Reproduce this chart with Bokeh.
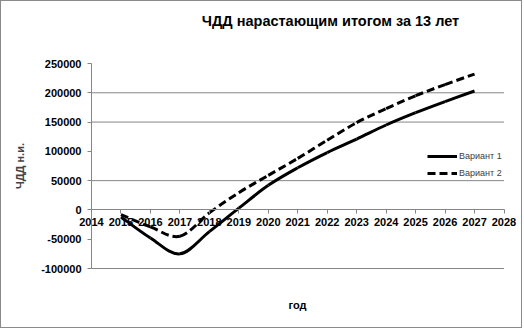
from bokeh.plotting import figure
from bokeh.models import (FixedTicker, NumeralTickFormatter, Legend, LegendItem, Label, Range1d)
from bokeh.embed import file_html
from bokeh.resources import INLINE

years = [2015, 2016, 2017, 2018, 2019, 2020, 2021, 2022, 2023, 2024, 2025, 2026, 2027]
variant1 = [-12000, -48000, -75000, -37000, 3000, 42000, 72000, 98000, 121000, 145000, 166000, 185000, 203000]
variant2 = [-8000, -29000, -45000, -5000, 29500, 59000, 88000, 119000, 149000, 173000, 195000, 214000, 232000]
x_ticks = list(range(2014, 2029))
y_ticks = [-100000, -50000, 0, 50000, 100000, 150000, 200000, 250000]
grid_values = [-100000, 50000, 150000, 200000]

title_text = "ЧДД нарастающим итогом за 13 лет"
y_label = "ЧДД н.и."
x_label = "год"
labels = ["Вариант 1", "Вариант 2"]

FONT = "Liberation Sans"
GRAY = "#868686"

# axis extents (data) and the frame geometry in pixels
X0, X1 = 2014, 2028
Y0, Y1 = -100000, 250000
W, H = 522, 328
FL, FR, FT, FB = 5, 517, 5, 323          # frame edges on the canvas
AX_L, AX_R, AX_T, AX_B = 90, 502.5, 62, 267   # where the axis extents sit
px_x = (AX_R - AX_L) / (X1 - X0)
px_y = (AX_B - AX_T) / (Y1 - Y0)
x_range = Range1d(X0 - (AX_L - FL) / px_x, X1 + (FR - AX_R) / px_x)
y_range = Range1d(Y0 - (FB - AX_B) / px_y, Y1 + (AX_T - FT) / px_y)


def smooth(xs, ys):
    n = len(xs)
    d = dict(x0=[], y0=[], x1=[], y1=[], cx0=[], cy0=[], cx1=[], cy1=[])
    for i in range(n - 1):
        im = max(i - 1, 0)
        ip = min(i + 2, n - 1)
        d["x0"].append(xs[i]); d["y0"].append(ys[i])
        d["x1"].append(xs[i + 1]); d["y1"].append(ys[i + 1])
        d["cx0"].append(xs[i] + (xs[i + 1] - xs[im]) / 6)
        d["cy0"].append(ys[i] + (ys[i + 1] - ys[im]) / 6)
        d["cx1"].append(xs[i + 1] - (xs[ip] - xs[i]) / 6)
        d["cy1"].append(ys[i + 1] - (ys[ip] - ys[i]) / 6)
    return d


p = figure(width=W, height=H, output_backend="svg", toolbar_location=None,
           x_range=x_range, y_range=y_range,
           min_border_left=FL, min_border_right=W - FR, min_border_top=FT, min_border_bottom=H - FB)
p.styles = {"border": "1px solid #8a8a8a"}
p.outline_line_color = None
p.background_fill_color = "white"
p.border_fill_color = "white"
p.xgrid.visible = False
p.ygrid.visible = False

# horizontal gridlines limited to the axis extent
p.segment(x0=[X0] * len(grid_values), x1=[X1] * len(grid_values), y0=grid_values, y1=grid_values,
          line_color=GRAY, line_width=1)

r1 = p.bezier(line_color="black", line_width=3, **smooth(years, variant1))
r2 = p.bezier(line_color="black", line_width=3, line_dash="8 4", **smooth(years, variant2))

# x axis crossing at y = 0
xa = p.xaxis[0]
xa.fixed_location = 0
xa.bounds = (X0, X1)
xa.ticker = FixedTicker(ticks=x_ticks)
xa.axis_line_color = GRAY
xa.major_tick_line_color = GRAY
xa.major_tick_out = 4
xa.major_tick_in = 0
xa.minor_tick_line_color = None
xa.major_label_text_font = FONT
xa.major_label_text_font_style = "bold"
xa.major_label_text_font_size = "11px"
xa.major_label_text_color = "black"
xa.major_label_standoff = 4

# y axis at x = 2014
ya = p.yaxis[0]
ya.fixed_location = X0
ya.bounds = (Y0, Y1)
ya.ticker = FixedTicker(ticks=y_ticks)
ya.formatter = NumeralTickFormatter(format="0")
ya.axis_line_color = GRAY
ya.major_tick_line_color = GRAY
ya.major_tick_out = 4
ya.major_tick_in = 0
ya.minor_tick_line_color = None
ya.major_label_text_font = FONT
ya.major_label_text_font_style = "bold"
ya.major_label_text_font_size = "11px"
ya.major_label_text_color = "black"
ya.major_label_standoff = 6
ya.axis_label = y_label
ya.axis_label_text_font = FONT
ya.axis_label_text_font_style = "bold"
ya.axis_label_text_font_size = "11px"
ya.axis_label_standoff = 12

p.add_layout(Label(x=329 - FL, y=FB - 19, x_units="screen", y_units="screen", text=title_text,
                   text_align="center", text_baseline="middle", text_font=FONT,
                   text_font_style="bold", text_font_size="14.5px", text_color="black"))
p.add_layout(Label(x=296 - FL, y=FB - 303, x_units="screen", y_units="screen", text=x_label,
                   text_align="center", text_baseline="middle", text_font=FONT,
                   text_font_style="bold", text_font_size="11px", text_color="black"))

legend = Legend(items=[LegendItem(label=labels[0], renderers=[r1]),
                       LegendItem(label=labels[1], renderers=[r2])],
                location=(421, 144), padding=0, margin=0, spacing=3,
                glyph_width=30, glyph_height=14, label_height=14, label_standoff=2,
                label_text_font=FONT, label_text_font_size="9px", label_text_color="#404040",
                background_fill_alpha=0, border_line_color=None)
p.add_layout(legend, "center")

open("out.html", "w").write(file_html(p, INLINE))
